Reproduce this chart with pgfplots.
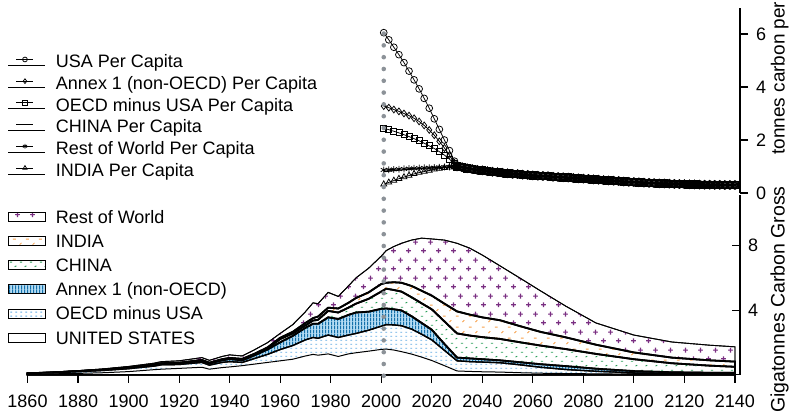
\documentclass[border=0pt]{standalone}
\usepackage{fontspec}
\setmainfont{Liberation Sans}
\usepackage{pgfplots}
\pgfplotsset{compat=1.18}
\usepackage{pgfplotstable}
\usetikzlibrary{patterns}

\definecolor{rowc}{HTML}{7A2F82}
\definecolor{indc}{HTML}{F7A04A}
\definecolor{chic}{HTML}{2BA05A}
\definecolor{anxfill}{HTML}{B4DCF4}
\definecolor{anxline}{HTML}{1470AA}
\definecolor{oecdc}{HTML}{5EA9E3}
\definecolor{dotgray}{HTML}{8C9298}

\pgfdeclarepatternformonly{plusses}{\pgfqpoint{0pt}{0pt}}{\pgfqpoint{15pt}{18pt}}{\pgfqpoint{15pt}{18pt}}{%
\pgfsetlinewidth{1.25pt}%
\pgfpathmoveto{\pgfqpoint{1.25pt}{4.5pt}}\pgfpathlineto{\pgfqpoint{6.25pt}{4.5pt}}%
\pgfpathmoveto{\pgfqpoint{3.75pt}{2pt}}\pgfpathlineto{\pgfqpoint{3.75pt}{7pt}}%
\pgfpathmoveto{\pgfqpoint{8.75pt}{13.5pt}}\pgfpathlineto{\pgfqpoint{13.75pt}{13.5pt}}%
\pgfpathmoveto{\pgfqpoint{11.25pt}{11pt}}\pgfpathlineto{\pgfqpoint{11.25pt}{16pt}}%
\pgfusepath{stroke}}
\pgfdeclarepatternformonly{inddash}{\pgfqpoint{0pt}{0pt}}{\pgfqpoint{13pt}{11pt}}{\pgfqpoint{13pt}{11pt}}{%
\pgfsetlinewidth{0.9pt}%
\pgfpathmoveto{\pgfqpoint{1pt}{2pt}}\pgfpathlineto{\pgfqpoint{4pt}{2pt}}%
\pgfpathmoveto{\pgfqpoint{8pt}{7.5pt}}\pgfpathlineto{\pgfqpoint{10pt}{9.5pt}}%
\pgfusepath{stroke}}
\pgfdeclarepatternformonly{chidash}{\pgfqpoint{0pt}{0pt}}{\pgfqpoint{10pt}{9pt}}{\pgfqpoint{10pt}{9pt}}{%
\pgfsetlinewidth{0.9pt}%
\pgfpathmoveto{\pgfqpoint{1pt}{2pt}}\pgfpathlineto{\pgfqpoint{3.5pt}{2pt}}%
\pgfpathmoveto{\pgfqpoint{6pt}{6.5pt}}\pgfpathlineto{\pgfqpoint{8pt}{7.5pt}}%
\pgfusepath{stroke}}
\pgfdeclarepatternformonly{vlines}{\pgfqpoint{0pt}{0pt}}{\pgfqpoint{3.2pt}{4pt}}{\pgfqpoint{3.2pt}{4pt}}{%
\pgfsetlinewidth{1.2pt}%
\pgfpathmoveto{\pgfqpoint{0.8pt}{-0.1pt}}\pgfpathlineto{\pgfqpoint{0.8pt}{4.1pt}}%
\pgfusepath{stroke}}
\pgfdeclarepatternformonly{smalldash}{\pgfqpoint{0pt}{0pt}}{\pgfqpoint{5pt}{4pt}}{\pgfqpoint{5pt}{4pt}}{%
\pgfsetlinewidth{0.9pt}%
\pgfpathmoveto{\pgfqpoint{0.5pt}{1pt}}\pgfpathlineto{\pgfqpoint{2.5pt}{1pt}}%
\pgfusepath{stroke}}

% per capita, 2001-2030
\pgfplotstableread{
year usa annex oecd china row india
2001 6.05 3.28 2.44 0.80 0.87 0.33
2003 5.78 3.22 2.39 0.82 0.88 0.40
2005 5.50 3.15 2.33 0.84 0.89 0.47
2007 5.22 3.08 2.27 0.86 0.90 0.54
2009 4.92 3.00 2.20 0.875 0.91 0.60
2011 4.60 2.92 2.13 0.89 0.92 0.66
2013 4.27 2.82 2.05 0.905 0.93 0.72
2015 3.93 2.70 1.97 0.92 0.94 0.77
2017 3.57 2.55 1.88 0.935 0.95 0.81
2019 3.20 2.38 1.78 0.945 0.955 0.85
2021 2.80 2.18 1.68 0.955 0.96 0.89
2023 2.40 1.95 1.56 0.965 0.97 0.92
2025 2.00 1.70 1.43 0.975 0.98 0.95
2027 1.60 1.43 1.28 0.985 0.985 0.97
2029 1.20 1.14 1.10 0.995 0.995 0.99
2030 1.00 1.00 1.00 1.00 1.00 1.00
}\pcA
% per capita, common path after convergence
\pgfplotstableread{
year v
2030 1.00
2032 0.97
2034 0.93
2036 0.90
2038 0.87
2040 0.85
2042 0.82
2044 0.80
2046 0.78
2048 0.76
2050 0.74
2052 0.72
2054 0.71
2056 0.69
2058 0.68
2060 0.66
2062 0.65
2064 0.64
2066 0.63
2068 0.61
2070 0.60
2072 0.59
2074 0.58
2076 0.56
2078 0.55
2080 0.54
2082 0.53
2084 0.51
2086 0.50
2088 0.48
2090 0.47
2092 0.46
2094 0.45
2096 0.43
2098 0.42
2100 0.41
2102 0.40
2104 0.39
2106 0.38
2108 0.37
2110 0.36
2112 0.355
2114 0.35
2116 0.34
2118 0.335
2120 0.33
2122 0.325
2124 0.32
2126 0.315
2128 0.31
2130 0.31
2132 0.305
2134 0.305
2136 0.30
2138 0.30
2140 0.30
}\pcB
% cumulative gross emissions (GtC): t1 USA, t2 +OECD, t3 +Annex1, t4 +China, t5 +India, t6 +RoW
\pgfplotstableread{
year t1 t2 t3 t4 t5 t6
1860 0.02 0.05 0.06 0.07 0.075 0.09
1870 0.04 0.10 0.11 0.12 0.13 0.15
1880 0.07 0.17 0.19 0.20 0.21 0.24
1890 0.11 0.25 0.28 0.29 0.30 0.35
1900 0.18 0.36 0.40 0.42 0.44 0.50
1910 0.30 0.52 0.58 0.60 0.62 0.70
1913 0.33 0.60 0.66 0.68 0.70 0.80
1920 0.38 0.62 0.68 0.71 0.73 0.85
1929 0.45 0.75 0.85 0.88 0.90 1.05
1932 0.33 0.58 0.68 0.71 0.73 0.88
1937 0.43 0.75 0.88 0.92 0.95 1.12
1940 0.47 0.80 0.96 1.00 1.03 1.22
1945 0.55 0.75 0.88 0.93 0.97 1.15
1950 0.65 1.00 1.20 1.25 1.30 1.55
1955 0.75 1.25 1.55 1.62 1.68 1.98
1960 0.85 1.55 2.00 2.20 2.28 2.55
1965 0.95 1.80 2.40 2.55 2.65 3.10
1970 1.15 2.15 2.90 3.05 3.20 3.90
1973 1.25 2.30 3.15 3.35 3.50 4.45
1975 1.20 2.25 3.15 3.40 3.60 4.40
1979 1.28 2.45 3.55 3.95 4.15 5.10
1983 1.12 2.30 3.45 3.85 4.10 4.85
1987 1.28 2.45 3.70 4.15 4.45 5.50
1990 1.35 2.55 3.85 4.40 4.75 6.00
1995 1.45 2.75 3.90 4.70 5.10 6.60
2000 1.56 3.00 4.08 5.15 5.62 7.35
2002 1.58 3.10 4.10 5.33 5.70 7.70
2005 1.52 3.08 4.05 5.25 5.73 7.95
2008 1.42 3.03 3.98 5.15 5.70 8.15
2012 1.27 2.82 3.62 4.80 5.50 8.35
2016 1.08 2.50 3.20 4.42 5.20 8.47
2020 0.87 2.15 2.78 4.05 4.90 8.42
2025 0.55 1.50 1.90 3.30 4.40 8.35
2030 0.22 0.85 1.05 2.55 3.92 8.15
2035 0.19 0.80 1.00 2.42 3.72 7.85
2040 0.17 0.77 0.95 2.32 3.55 7.42
2047 0.15 0.73 0.88 2.21 3.37 6.75
2055 0.11 0.60 0.76 2.00 3.00 5.98
2063 0.08 0.45 0.64 1.80 2.65 5.20
2073 0.06 0.31 0.52 1.58 2.31 4.25
2085 0.04 0.20 0.36 1.28 1.85 3.20
2100 0.02 0.10 0.21 0.95 1.37 2.45
2115 0.015 0.07 0.14 0.70 1.05 2.02
2130 0.01 0.05 0.11 0.55 0.88 1.82
2140 0.01 0.05 0.10 0.48 0.80 1.72
}\areas

\begin{document}
\begin{tikzpicture}[font=\fontsize{18}{21.6}\selectfont]
\pgfplotsset{
  common/.style={
    scale only axis, width=712.5pt, xmin=1860, xmax=2142,
    tick style={line width=1.1pt, black},
    major tick length=8pt,
    /pgf/number format/assume math mode=true,
    /pgf/number format/1000 sep={},
    tick label style={font=\fontsize{18}{21.6}\selectfont},
    yticklabel style={anchor=west, inner sep=0pt, xshift=8pt},
  },
  nolinearrows/.style={
    axis line style={-, line width=1.3pt},
    every outer x axis line/.append style={-},
    every outer y axis line/.append style={-},
    every inner x axis line/.append style={-},
    every inner y axis line/.append style={-},
    x axis line style={-}, y axis line style={-},
  },
  pc/.style={black, line width=0.75pt, mark size=3.4pt, mark options={solid, line width=0.75pt}},
  pcband/.style={black, line width=1.2pt, mark size=4pt, mark options={solid, line width=1.1pt}, forget plot},
}
% ---------------- upper axis: per capita ----------------
\begin{axis}[common,
  at={(27.5pt,223pt)}, anchor=south west, height=185.5pt,
  ymin=0, ymax=7,
  axis x line=none, axis y line=right, nolinearrows,
  ytick={0,2,4,6}, tick align=outside,
  legend style={at={(rel axis cs:-0.0274,0.746)}, anchor=north west,
    draw=none, fill=none, inner sep=0pt, outer sep=0pt,
    row sep=0pt, column sep=10pt,
    nodes={inner sep=0pt, text height=13pt, text depth=8.7pt},
    font=\fontsize{18}{21.6}\selectfont},
  legend cell align=left,
  legend image code/.code={%
    \path (0pt,0pt) -- (37pt,0pt);
    \draw[mark repeat=2,mark phase=2,#1,mark size=2.4pt] plot coordinates {(8pt,6pt) (16.5pt,6pt) (25pt,6pt)};},
]
\addplot[pc, mark=o] table[x=year,y=usa]{\pcA};
\addlegendentry{USA Per Capita}
\addplot[pc, mark=diamond] table[x=year,y=annex]{\pcA};
\addlegendentry{Annex 1 (non-OECD) Per Capita}
\addplot[pc, mark=square, mark size=3pt] table[x=year,y=oecd]{\pcA};
\addlegendentry{OECD minus USA Per Capita}
\addplot[pc, no markers, line width=1pt] table[x=year,y=china]{\pcA};
\addlegendentry{CHINA Per Capita}
\addplot[pc, mark=asterisk] table[x=year,y=row]{\pcA};
\addlegendentry{Rest of World Per Capita}
\addplot[pc, mark=triangle] table[x=year,y=india]{\pcA};
\addlegendentry{INDIA Per Capita}
\addplot[pcband, mark=o] table[x=year,y=v]{\pcB};
\addplot[pcband, mark=diamond] table[x=year,y=v]{\pcB};
\addplot[pcband, mark=square, mark size=3.6pt] table[x=year,y=v]{\pcB};
\addplot[pcband, no markers, line width=2pt] table[x=year,y=v]{\pcB};
\addplot[pcband, mark=asterisk] table[x=year,y=v]{\pcB};
\addplot[pcband, mark=triangle] table[x=year,y=v]{\pcB};
\end{axis}
% ---------------- lower axis: stacked gross emissions ----------------
\begin{axis}[common,
  at={(27.5pt,41.5pt)}, anchor=south west, height=179.5pt,
  ymin=0, ymax=11.15,
  axis x line=bottom, axis y line=right, nolinearrows,
  clip=false,
  xtick={1860,1880,...,2140},
  ytick={4,8},
  tick align=inside,
  xtick style={yshift=-8pt},
  xticklabel style={anchor=north, inner sep=0pt, yshift=-20.5pt},
  legend style={at={(rel axis cs:-0.0274,0.921)}, anchor=north west,
    draw=none, fill=none, inner sep=0pt, outer sep=0pt,
    row sep=0pt, column sep=10pt,
    nodes={inner sep=0pt, text height=14pt, text depth=10.2pt},
    font=\fontsize{18}{21.6}\selectfont},
  legend cell align=left,
  legend image code/.code={%
    \draw[#1, line width=0.8pt] (0pt,0pt) rectangle (37pt,9pt);},
]
\addplot[draw=black, line width=0.9pt, fill=white, postaction={pattern=plusses, pattern color=rowc}] table[x=year,y=t6]{\areas} \closedcycle;
\addlegendentry{Rest of World}
\addplot[draw=black, line width=1.8pt, fill=white, postaction={pattern=inddash, pattern color=indc}] table[x=year,y=t5]{\areas} \closedcycle;
\addlegendentry{INDIA}
\addplot[draw=black, line width=1.8pt, fill=white, postaction={pattern=chidash, pattern color=chic}] table[x=year,y=t4]{\areas} \closedcycle;
\addlegendentry{CHINA}
\addplot[draw=black, line width=1.8pt, fill=anxfill, postaction={pattern=vlines, pattern color=anxline}] table[x=year,y=t3]{\areas} \closedcycle;
\addlegendentry{Annex 1 (non-OECD)}
\addplot[draw=black, line width=1.3pt, fill=white, postaction={pattern=smalldash, pattern color=oecdc}] table[x=year,y=t2]{\areas} \closedcycle;
\addlegendentry{OECD minus USA}
\addplot[draw=black, line width=1pt, fill=white] table[x=year,y=t1]{\areas} \closedcycle;
\addlegendentry{UNITED STATES}
\addplot[draw=dotgray, line width=4.6pt, line cap=round, dash pattern=on 0pt off 11.8pt, forget plot] coordinates {(2001,-0.08) (2001,21.55)};
\end{axis}
\node[rotate=90, anchor=base west, inner sep=0pt, font=\fontsize{19.5}{23}\selectfont] at (784.5pt,3pt) {Gigatonnes Carbon Gross};
\node[rotate=90, anchor=base west, inner sep=0pt, font=\fontsize{19}{23}\selectfont] at (784.5pt,261pt) {tonnes carbon per};
\pgfresetboundingbox
\path (0pt,0pt) rectangle (789pt,416pt);
\end{tikzpicture}
\end{document}
